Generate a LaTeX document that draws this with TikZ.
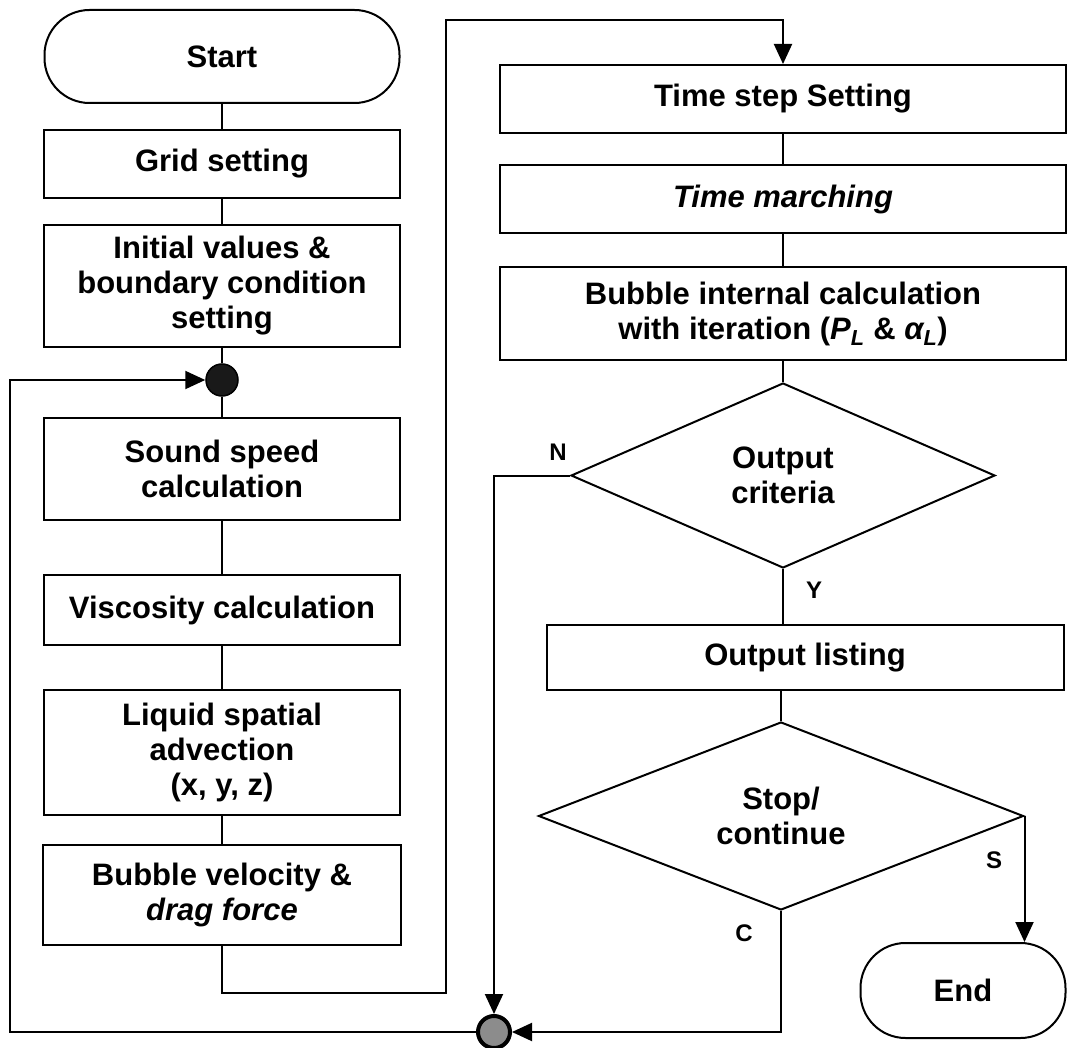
\documentclass[tikz,border=0pt]{standalone}
\usepackage{fontspec}
\setmainfont{Liberation Sans}
\usetikzlibrary{shapes.geometric,arrows.meta}
\begin{document}
\begin{tikzpicture}[x=1pt,y=-1pt,
  ln/.style={line width=2pt},
  txt/.style={font=\fontsize{31}{35}\selectfont\bfseries},
  lbl/.style={font=\fontsize{24}{27}\selectfont\bfseries,inner sep=0pt},
  box/.style={draw,ln,rectangle,align=center,inner sep=0pt,txt},
  term/.style={box,rounded corners=45pt},
  dec/.style={draw,ln,diamond,align=center,inner sep=0pt,txt},
  arr/.style={ln,-{Triangle[length=20pt,width=18pt]}},
  conn/.style={ln}]
\useasboundingbox (0,0) rectangle (1074,1048);
% left column
\node[term,minimum width=355pt,minimum height=93pt] (start) at (222,56.5) {Start};
\node[box,minimum width=356pt,minimum height=68pt] (grid) at (222,164) {Grid setting};
\node[box,minimum width=356pt,minimum height=122pt] (init) at (222,286) {Initial values \&\\boundary condition\\setting};
\node[circle,draw=black,fill=black!90,line width=1.5pt,minimum size=32pt,inner sep=0pt] (dotA) at (222,380) {};
\node[box,minimum width=356pt,minimum height=102pt] (sound) at (222,469) {Sound speed\\calculation};
\node[box,minimum width=356pt,minimum height=70pt] (visc) at (222,610) {Viscosity calculation};
\node[box,minimum width=356pt,minimum height=125pt] (liq) at (222,752.5) {Liquid spatial\\advection\\(x, y, z)};
\node[box,minimum width=358pt,minimum height=100pt] (bub) at (222,895) {Bubble velocity \&\\\textit{drag force}};
% right column
\node[box,minimum width=566pt,minimum height=68pt] (tstep) at (783,99) {Time step Setting};
\node[box,minimum width=566pt,minimum height=68pt] (tmarch) at (783,199) {\textit{Time marching}};
\node[box,minimum width=566pt,minimum height=93pt] (bint) at (783,313.5) {Bubble internal calculation\\with iteration (\textit{P\textsubscript{L}} \& \textit{α\textsubscript{L}})};
\node[dec,minimum width=424pt,minimum height=185pt] (crit) at (783,475.5) {Output\\criteria};
\node[box,minimum width=517pt,minimum height=65pt] (olist) at (805,657.5) {Output listing};
\node[dec,minimum width=485pt,minimum height=188pt] (stop) at (781,816) {Stop/\\continue};
\node[term,minimum width=205pt,minimum height=95pt] (fin) at (963,990.5) {End};
\node[circle,draw=black,fill=black!45,line width=4pt,minimum size=32pt,inner sep=0pt] (dotB) at (494,1032) {};
% labels
\node[lbl] (labN) at (558,452) {N};
\node[lbl] (labY) at (814,590) {Y};
\node[lbl] (labS) at (994,860) {S};
\node[lbl] (labC) at (744,933) {C};
% coordinates
\coordinate (loopA) at (446,993);
\coordinate (loopB) at (446,20);
\coordinate (retA) at (10,1032);
\coordinate (retB) at (10,380);
% connectors left
\draw[conn] (start.south) -- (grid.north);
\draw[conn] (grid.south) -- (init.north);
\draw[conn] (init.south) -- (dotA.north);
\draw[conn] (dotA.south) -- (sound.north);
\draw[conn] (sound.south) -- (visc.north);
\draw[conn] (visc.south) -- (liq.north);
\draw[conn] (liq.south) -- (bub.north);
\draw[arr] (bub.south) |- (loopA) -- (loopB) -| (tstep.north);
% connectors right
\draw[conn] (tstep.south) -- (tmarch.north);
\draw[conn] (tmarch.south) -- (bint.north);
\draw[conn] (bint.south) -- (crit.north);
\draw[conn] (crit.south) -- (crit.south |- olist.north);
\draw[conn] (stop.north |- olist.south) -- (stop.north);
\draw[arr] (stop.east) -- (stop.east |- fin.north);
\draw[arr] (crit.west) -| (dotB.north);
\draw[arr] (stop.south) |- (dotB.east);
\draw[arr] (dotB.west) -- (retA) -- (retB) -- (dotA.west);
\end{tikzpicture}
\end{document}
